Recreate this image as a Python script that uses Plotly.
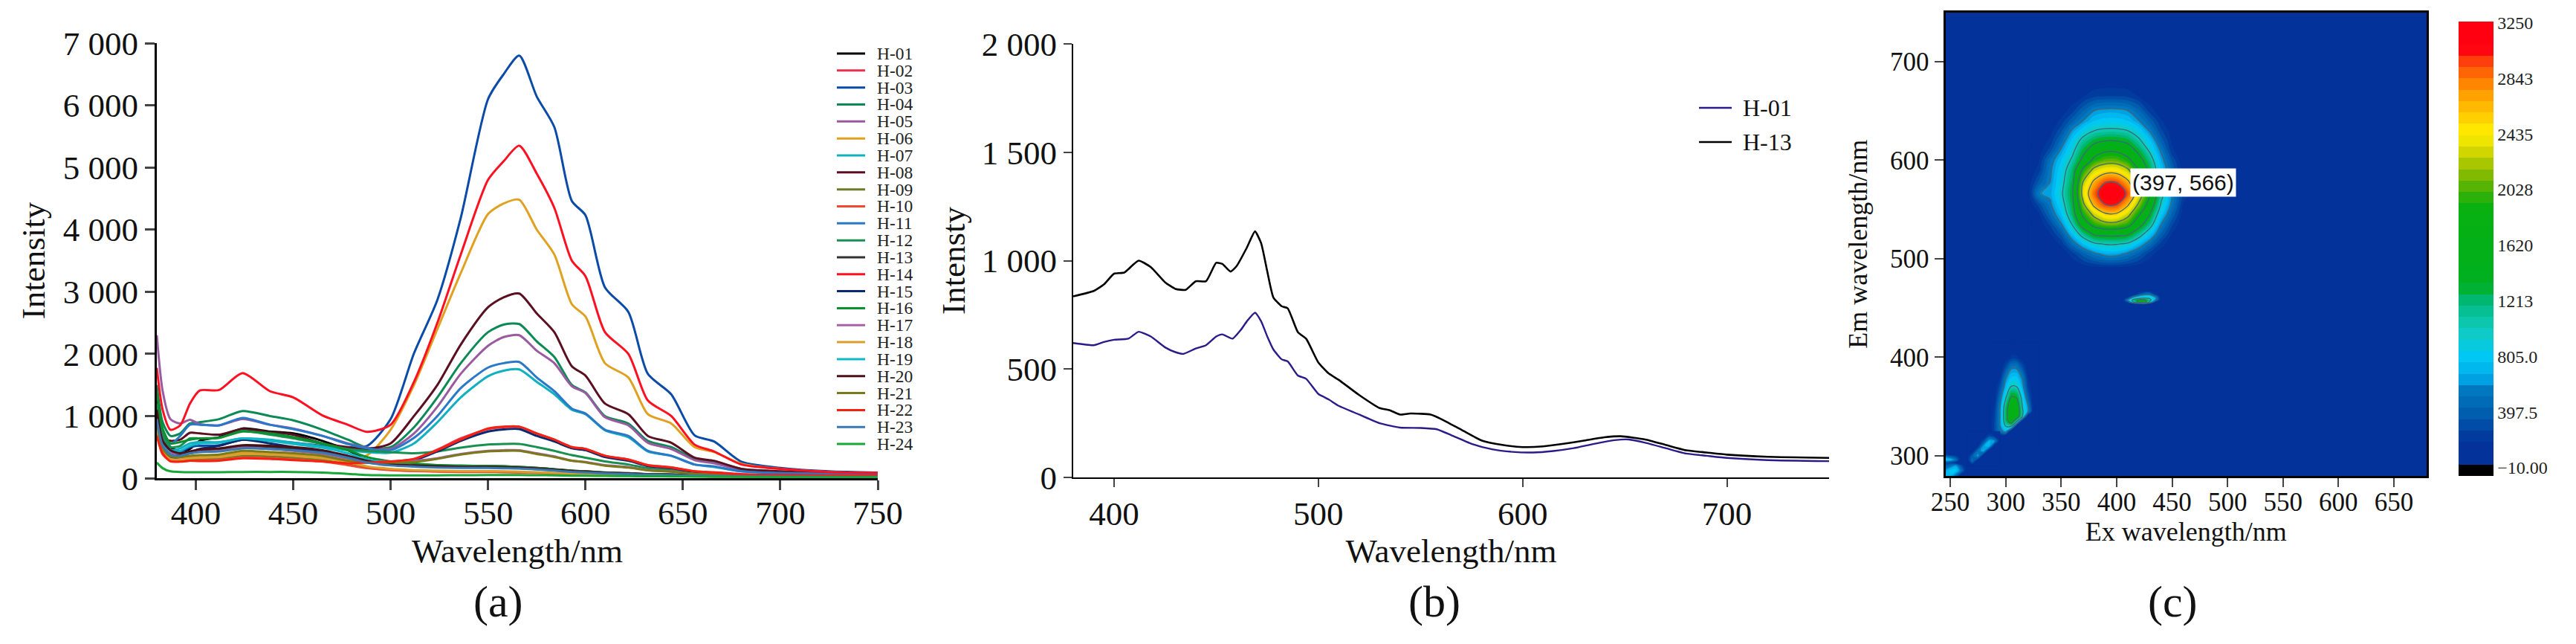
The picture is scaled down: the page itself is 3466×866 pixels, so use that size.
import plotly.graph_objects as go
from plotly.subplots import make_subplots

W = 3466
H = 866
PAGE_MARGIN = 8  # the html body keeps its default margin
SERIF = 'Liberation Serif'

# panel (a)
WL_A = [380,383,387,392,397,402,412,424,438,450,465,478,488,500,512,524,536,550,558,566,575,584,593,600,610,622,632,644,656,666,680,700,725,750]
H_01 = [1300,700,500,430,470,600,660,800,750,720,600,450,300,250,220,205,200,195,190,180,165,145,120,110,90,80,65,60,50,45,35,30,28,25]
H_02 = [900,480,340,320,340,350,360,420,400,380,340,280,250,265,310,460,640,790,820,825,720,620,500,470,360,300,210,175,110,95,65,50,45,40]
H_03 = [1100,650,450,420,500,520,530,620,600,570,520,490,520,950,2010,2870,4190,6100,6500,6800,6140,5650,4460,4230,3070,2675,1680,1350,690,590,265,165,110,90]
H_04 = [1500,900,680,720,880,900,950,1080,1000,930,780,620,490,500,820,1300,1850,2350,2470,2480,2200,1950,1500,1380,1000,880,600,500,310,270,150,105,80,70]
H_05 = [2300,1400,950,880,940,870,850,950,860,800,680,560,490,470,720,1150,1680,2130,2270,2300,2050,1850,1480,1370,980,850,570,470,290,240,130,95,75,65]
H_06 = [800,450,350,330,350,360,370,420,410,390,350,300,370,780,1500,2400,3300,4250,4420,4480,4000,3600,2800,2600,1850,1620,1030,880,500,420,230,150,100,80]
H_07 = [1100,600,450,480,560,580,580,640,620,570,510,450,420,410,560,900,1300,1640,1730,1750,1550,1350,1100,1030,770,660,430,360,220,180,110,80,65,55]
H_08 = [1200,650,600,620,730,720,700,790,740,700,560,500,470,560,1000,1500,2150,2750,2910,2970,2650,2350,1800,1650,1200,1030,680,570,330,280,150,110,80,70]
H_09 = [850,430,300,290,300,310,320,360,350,330,290,220,170,140,120,110,105,105,100,95,90,80,70,62,55,48,42,38,32,28,24,20,18,16]
H_10 = [700,380,280,270,280,285,290,330,320,300,270,210,160,130,115,105,100,100,95,90,85,75,65,60,52,45,40,36,30,26,22,20,18,16]
H_11 = [1000,650,550,680,860,860,850,970,860,790,680,550,480,450,650,1000,1450,1780,1850,1870,1620,1400,1120,1040,780,680,440,360,220,190,110,85,70,60]
H_12 = [1200,700,500,520,640,640,650,760,700,640,550,470,440,420,400,430,490,540,550,550,500,440,370,330,270,220,160,135,90,75,50,40,35,30]
H_13 = [1000,560,420,380,400,430,450,520,500,470,420,340,260,215,195,180,175,175,170,165,150,130,110,100,85,72,62,55,46,40,32,26,24,22]
H_14 = [1775,1100,780,850,1200,1410,1420,1690,1400,1300,1010,860,745,860,1550,2500,3600,4800,5100,5350,4900,4350,3500,3250,2350,2000,1250,1000,540,430,220,150,100,85]
H_15 = [800,420,330,340,410,470,520,620,560,500,420,330,270,260,290,430,600,750,785,790,680,590,480,450,340,280,195,160,100,85,55,45,40,35]
H_16 = [1400,800,560,580,620,640,650,750,720,660,560,450,340,270,235,210,200,195,190,180,165,145,120,110,92,78,66,58,48,42,34,28,25,22]
H_17 = [1000,560,420,400,420,430,440,490,470,440,390,320,280,270,280,320,390,440,450,450,400,350,280,260,210,180,130,110,70,60,40,35,30,28]
H_18 = [820,420,310,300,320,330,340,390,380,360,320,260,190,150,130,120,115,115,110,105,95,85,75,68,58,50,44,40,34,30,25,22,20,18]
H_19 = [1050,590,440,440,520,560,570,640,600,550,490,400,300,235,205,185,175,170,165,160,145,125,105,95,80,68,58,50,42,36,30,25,22,20]
H_20 = [1100,600,450,400,430,460,480,530,520,500,450,360,280,225,205,190,180,180,175,170,155,135,115,105,88,75,64,56,48,42,34,28,25,22]
H_21 = [900,480,350,340,360,370,380,440,420,400,360,280,250,250,260,310,380,430,440,440,390,340,280,255,200,170,125,105,70,58,40,32,28,25]
H_22 = [680,400,270,265,280,275,280,320,310,290,270,240,250,270,310,450,620,800,830,830,720,620,500,470,360,300,210,170,110,90,60,50,45,40]
H_23 = [950,520,380,360,400,420,430,480,470,450,410,330,250,205,185,170,165,165,160,155,140,122,102,92,78,66,56,50,42,36,30,25,22,20]
H_24 = [250,160,110,100,95,95,95,100,100,100,90,70,50,45,45,45,48,50,50,50,48,45,40,38,35,32,30,28,25,22,20,18,15,15]

NAMES_A = ['H-01','H-02','H-03','H-04','H-05','H-06','H-07','H-08','H-09','H-10','H-11','H-12',
           'H-13','H-14','H-15','H-16','H-17','H-18','H-19','H-20','H-21','H-22','H-23','H-24']
SERIES_A = [H_01,H_02,H_03,H_04,H_05,H_06,H_07,H_08,H_09,H_10,H_11,H_12,
            H_13,H_14,H_15,H_16,H_17,H_18,H_19,H_20,H_21,H_22,H_23,H_24]
COLORS_A = ['#000000','#E8304A','#0A4BA8','#0B8A55','#9A5AA0','#E0A020','#10B0C0','#5A1020','#6E7A28','#F04A30','#2A78C8','#1A9050',
            '#333333','#FF1020','#0A2A70','#0A9030','#A860A8','#D8A030','#10B8C8','#4A1018','#7A7A18','#F82010','#3A78B0','#18A838']
TICKS_A_X = [400,450,500,550,600,650,700,750]
TICKS_A_Y = [0,1000,2000,3000,4000,5000,6000,7000]
LABELS_A_Y = ['0','1 000','2 000','3 000','4 000','5 000','6 000','7 000']

# panel (b)
WL_B13 = [380,390,395,400,405,412,418,425,430,435,440,445,450,453,457,460,465,469,472,475,478,482,485,490,494,500,505,510,520,530,535,540,545,555,560,570,580,590,600,610,620,630,640,648,660,670,680,690,700,720,750]
B_H13 = [835,860,890,940,945,1000,970,900,870,865,905,905,990,985,950,975,1060,1135,1080,950,830,790,780,670,640,530,480,450,380,320,310,290,295,290,270,220,170,150,140,143,155,170,185,190,175,150,125,115,105,95,90]
WL_B01 = [380,390,395,400,407,412,418,425,430,434,440,445,450,453,458,462,465,469,472,475,478,482,485,490,494,500,505,510,520,530,540,550,558,565,575,585,595,605,615,625,635,645,652,660,670,680,690,700,720,750]
B_H01 = [620,610,625,635,640,672,650,600,578,570,595,610,650,660,640,680,720,760,720,650,590,545,535,470,455,385,360,330,290,250,230,228,222,195,155,130,118,115,122,135,155,172,175,160,135,110,100,90,80,75]
TICKS_B_X = [400,500,600,700]
TICKS_B_Y = [0,500,1000,1500,2000]
LABELS_B_Y = ['0','500','1 000','1 500','2 000']

EX_MAIN = [320,330,340,350,360,370,380,390,400,410,420,430,440,450,460,470]
EM_MAIN = [490,505,515,525,535,545,555,566,577,590,600,610,620,630,640,650,665,680]
Z_MAIN = [
    [70,70,72,80,95,110,120,130,130,120,105,90,78,70,70,70],
    [70,75,90,110,220,400,560,670,670,560,400,220,120,85,70,70],
    [70,85,110,200,480,760,960,1020,1020,960,740,480,230,110,75,70],
    [75,100,170,360,760,1150,1450,1500,1500,1450,1150,800,420,170,80,70],
    [80,120,280,580,1020,1600,1950,2100,2100,1950,1550,1150,600,280,100,70],
    [85,160,450,750,1220,1900,2300,2550,2550,2300,1850,1400,800,420,130,70],
    [95,300,560,870,1300,2150,2700,3000,3000,2650,2150,1650,980,540,180,75],
    [100,590,640,950,1350,2350,2900,3230,3230,2950,2400,1800,1100,600,240,85],
    [110,380,600,900,1300,2250,2700,3000,3000,2700,2150,1650,950,560,170,75],
    [95,220,560,840,1200,1900,2300,2450,2450,2250,1800,1300,780,430,110,70],
    [90,170,500,760,1050,1500,1900,2050,2050,1900,1550,1150,680,330,100,70],
    [85,130,300,620,920,1300,1600,1750,1750,1600,1300,950,560,200,95,70],
    [80,110,200,460,800,1100,1300,1380,1380,1300,1050,780,400,160,90,70],
    [80,95,140,320,620,850,1000,1050,1050,1000,850,560,280,130,85,70],
    [75,85,110,200,400,600,760,800,800,760,600,400,190,110,80,70],
    [75,80,90,130,230,430,600,650,650,600,450,220,130,90,75,70],
    [70,75,80,90,110,170,240,260,260,240,170,110,90,80,70,70],
    [70,70,70,75,80,90,100,110,110,105,95,85,75,70,70,70],
]
EX_LOW = [285,290,295,300,305,310,315,320,325,330]
EM_LOW = [310,320,325,330,335,340,345,350,360,370,380,390,400,415]
Z_LOW = [
    [70,70,70,70,70,70,70,70,70,70],
    [70,220,70,70,70,70,70,70,70,70],
    [70,270,520,700,70,70,70,70,70,70],
    [70,280,600,1000,1000,70,70,70,70,70],
    [70,280,620,1200,1650,1000,70,70,70,70],
    [70,260,620,1250,1700,1650,1000,70,70,70],
    [70,240,620,1250,1750,1700,1050,640,110,70],
    [70,200,600,1200,1720,1650,1000,620,100,70],
    [70,130,480,950,1400,1350,880,400,90,70],
    [70,100,320,720,1020,1000,680,260,80,70],
    [70,80,180,560,760,760,560,180,75,70],
    [70,75,100,300,560,560,320,100,70,70],
    [70,70,75,110,200,200,110,75,70,70],
    [70,70,70,70,75,75,70,70,70,70],
]
EX_DIAG = [265,270,275,280,285,290,295]
EM_DIAG = [290,295,300,305,310,315,320,325]
Z_DIAG = [
    [70,70,70,70,70,70,70],
    [70,500,70,70,70,70,70],
    [70,400,650,70,70,70,70],
    [70,100,500,700,70,70,70],
    [70,70,150,650,760,70,70],
    [70,70,70,300,700,600,70],
    [70,70,70,80,300,200,70],
    [70,70,70,70,70,70,70],
]
EX_CORNER = [240,245,250,255,260,265]
EM_CORNER = [275,280,285,290,293,296,299,302]
Z_CORNER = [
    [70,70,70,70,70,70],
    [70,700,750,500,70,70],
    [70,600,800,800,500,70],
    [70,350,500,650,300,70],
    [70,300,250,150,70,70],
    [70,780,760,500,80,70],
    [70,500,450,300,70,70],
    [70,70,70,70,70,70],
]
EX_SPOT = [405,410,415,420,425,430,435,440]
EM_SPOT = [450,454,456,458,460,462,464,468]
Z_SPOT = [
    [70,70,70,70,70,70,70,70],
    [70,70,70,100,150,100,70,70],
    [70,300,1000,1500,1600,900,200,70],
    [70,600,1100,1500,1500,1100,600,70],
    [70,300,800,900,1000,950,700,70],
    [70,70,400,700,800,800,500,70],
    [70,70,70,300,500,500,200,70],
    [70,70,70,70,70,70,70,70],
]
TICKS_C_X = [250,300,350,400,450,500,550,600,650]
TICKS_C_Y = [300,400,500,600,700]
CBAR_VALUES = [3250,2843,2435,2028,1620,1213,805,397.5,-10]
CBAR_LABELS = ['3250','2843','2435','2028','1620','1213','805.0','397.5','\u221210.00']
Z_LOW_END = -70
Z_HIGH_END = 3260
BG_BLUE = '#02329A'


def cs(z):
    return (z - Z_LOW_END) / (Z_HIGH_END - Z_LOW_END)


UPPER_STOPS = [
    [cs(180), BG_BLUE], [cs(397), '#0060B0'], [cs(560), '#0078C0'], [cs(650), '#00A8E8'], [cs(805), '#00C8F5'],
    [cs(1000), '#10CCC0'], [cs(1213), '#00B878'], [cs(1330), '#00B020'], [cs(1900), '#08B010'],
    [cs(2100), '#70B400'], [cs(2300), '#D0D400'], [cs(2435), '#FFF000'], [cs(2550), '#FFD000'],
    [cs(2700), '#FFA800'], [cs(2843), '#FF7800'], [cs(3000), '#FF3010'], [cs(3060), '#FF0010'], [1, '#FF0010'],
]
# the lowest band is black on the colour bar only, on the map it would outline each patch
COLORSCALE_BAR = [[0, '#000000'], [cs(12), '#000000'], [cs(13), BG_BLUE]] + UPPER_STOPS
COLORSCALE_MAP = [[0, BG_BLUE]] + UPPER_STOPS


def px(x):
    return (x - PAGE_MARGIN) / W


def py(y):
    return 1 - (y - PAGE_MARGIN) / H


fig = make_subplots(rows=1, cols=3)
fig.layout.xaxis.domain = [px(211), px(1181)]
fig.layout.yaxis.domain = [py(643), py(58)]
fig.layout.xaxis2.domain = [px(1444), px(2461)]
fig.layout.yaxis2.domain = [py(642), py(59)]
fig.layout.xaxis3.domain = [px(2617.5), px(3265)]
fig.layout.yaxis3.domain = [py(640), py(16.5)]

for name, vals, col in zip(NAMES_A, SERIES_A, COLORS_A):
    fig.add_trace(go.Scatter(x=WL_A, y=vals, name=name, mode='lines',
                             line=dict(color=col, width=3, shape='spline', smoothing=0.7),
                             showlegend=False), row=1, col=1)

fig.add_trace(go.Scatter(x=WL_B01, y=B_H01, name='H-01', mode='lines',
                         line=dict(color='#2B1A8A', width=2.4, shape='spline', smoothing=0.5),
                         showlegend=False), row=1, col=2)
fig.add_trace(go.Scatter(x=WL_B13, y=B_H13, name='H-13', mode='lines',
                         line=dict(color='#000000', width=2.6, shape='spline', smoothing=0.5),
                         showlegend=False), row=1, col=2)

PATCHES = [(EX_MAIN, EM_MAIN, Z_MAIN, True), (EX_LOW, EM_LOW, Z_LOW, True), (EX_DIAG, EM_DIAG, Z_DIAG, False),
           (EX_CORNER, EM_CORNER, Z_CORNER, False), (EX_SPOT, EM_SPOT, Z_SPOT, True)]
for ex, em, z, with_lines in PATCHES:
    fig.add_trace(go.Contour(x=ex, y=em, z=z, autocontour=False, zmin=Z_LOW_END, zmax=Z_HIGH_END,
                             contours=dict(start=Z_LOW_END, end=Z_HIGH_END, size=83.25, coloring='fill', showlines=False),
                             line=dict(width=0), colorscale=COLORSCALE_MAP, showscale=False),
                  row=1, col=3)
    if with_lines:
        fig.add_trace(go.Contour(x=ex, y=em, z=z, autocontour=False, showscale=False,
                                 contours=dict(start=600, end=3000, size=400, coloring='none'),
                                 line=dict(color='#3A6B78', width=1.3)), row=1, col=3)

# sits outside the axis range, only here for the colour bar
fig.add_trace(go.Contour(x=[0, 1], y=[0, 1], z=[[Z_LOW_END, Z_HIGH_END], [Z_LOW_END, Z_HIGH_END]], autocontour=False,
                         zmin=Z_LOW_END, zmax=Z_HIGH_END,
                         contours=dict(start=Z_LOW_END, end=Z_HIGH_END, size=83.25, coloring='fill', showlines=False),
                         line=dict(width=0), colorscale=COLORSCALE_BAR, showscale=True,
                         colorbar=dict(x=px(3307.5), xanchor='left', xpad=0, y=py(29), yanchor='top', ypad=0,
                                       lenmode='pixels', len=611, thicknessmode='pixels', thickness=47,
                                       outlinewidth=0, ticks='', tickvals=CBAR_VALUES, ticktext=CBAR_LABELS,
                                       tickfont=dict(family=SERIF, size=24, color='#222222'))),
              row=1, col=3)

tick_a = dict(family=SERIF, size=45, color='#111111')
title_a = dict(family=SERIF, size=45, color='#111111')
fig.update_xaxes(row=1, col=1, range=[380, 750], tickvals=TICKS_A_X, ticks='outside', ticklen=13, tickwidth=3,
                 showline=True, linecolor='black', linewidth=3, showgrid=False, zeroline=False, tickfont=tick_a,
                 ticklabelstandoff=-8, title=dict(text='Wavelength/nm', font=title_a, standoff=11))
fig.update_yaxes(row=1, col=1, range=[0, 7000], tickvals=TICKS_A_Y, ticktext=LABELS_A_Y, ticks='outside', ticklen=13,
                 tickwidth=3, showline=True, linecolor='black', linewidth=3, showgrid=False, zeroline=False,
                 tickfont=tick_a, title=dict(text='Intensity', font=title_a, standoff=11))
fig.update_xaxes(row=1, col=2, range=[380, 750], tickvals=TICKS_B_X, ticks='outside', ticklen=11, tickwidth=2,
                 showline=True, linecolor='black', linewidth=2, showgrid=False, zeroline=False, tickfont=tick_a,
                 ticklabelstandoff=-3, title=dict(text='Wavelength/nm', font=title_a, standoff=0))
fig.update_yaxes(row=1, col=2, range=[0, 2000], tickvals=TICKS_B_Y, ticktext=LABELS_B_Y, ticks='outside', ticklen=11,
                 tickwidth=2, showline=True, linecolor='black', linewidth=2, showgrid=False, zeroline=False,
                 tickfont=tick_a, title=dict(text='Intensty', font=title_a, standoff=8))
tick_c = dict(family=SERIF, size=35, color='#111111')
title_c = dict(family=SERIF, size=36, color='#111111')
fig.update_xaxes(row=1, col=3, range=[245.6, 679.5], tickvals=TICKS_C_X, ticks='outside', ticklen=12, tickwidth=2,
                 showline=True, mirror=True, linecolor='black', linewidth=3, showgrid=False, zeroline=False,
                 ticklabelstandoff=-10, tickfont=tick_c, title=dict(text='Ex wavelength/nm', font=title_c, standoff=6))
fig.update_yaxes(row=1, col=3, range=[279.6, 750], tickvals=TICKS_C_Y, ticks='outside', ticklen=12, tickwidth=2,
                 showline=True, mirror=True, linecolor='black', linewidth=3, showgrid=False, zeroline=False,
                 tickfont=tick_c, title=dict(text='Em wavelength/nm', font=title_c, standoff=20))

# hand placed legends, native rows can't get this tight
shapes = []
annotations = []
for i, (name, col) in enumerate(zip(NAMES_A, COLORS_A)):
    y = 72 + i * 22.83
    shapes.append(dict(type='line', xref='paper', yref='paper', x0=px(1126), x1=px(1164), y0=py(y), y1=py(y),
                       line=dict(color=col, width=3)))
    annotations.append(dict(xref='paper', yref='paper', x=px(1178), y=py(y), xanchor='left', yanchor='middle',
                            text=name, showarrow=False, font=dict(family=SERIF, size=23.5, color='#222222')))
for name, col, y in zip(['H-01', 'H-13'], ['#2B1A8A', '#000000'], [145, 191]):
    shapes.append(dict(type='line', xref='paper', yref='paper', x0=px(2286), x1=px(2330), y0=py(y), y1=py(y),
                       line=dict(color=col, width=2.5)))
    annotations.append(dict(xref='paper', yref='paper', x=px(2343), y=py(y), xanchor='left', yanchor='middle',
                            text=name, showarrow=False, font=dict(family=SERIF, size=32, color='#111111')))
for text, x in zip(['(a)', '(b)', '(c)'], [670, 1930, 2923]):
    annotations.append(dict(xref='paper', yref='paper', x=px(x), y=py(809), xanchor='center', yanchor='middle',
                            text=text, showarrow=False, font=dict(family=SERIF, size=60, color='#111111')))
annotations.append(dict(xref='x3', yref='y3', x=460, y=577, xanchor='center', yanchor='middle', text='(397, 566)',
                        showarrow=False, bgcolor='white', borderpad=2,
                        font=dict(family='Liberation Sans', size=30, color='#111111')))

fig.update_layout(width=W, height=H, margin=dict(l=0, r=0, t=0, b=0), paper_bgcolor='white', plot_bgcolor='white',
                  shapes=shapes, annotations=annotations, showlegend=False, template=None)
fig.add_shape(type='rect', xref='x3 domain', yref='y3 domain', x0=0, x1=1, y0=0, y1=1, layer='below',
              fillcolor=BG_BLUE, line=dict(width=0))

fig.write_html("out.html")
